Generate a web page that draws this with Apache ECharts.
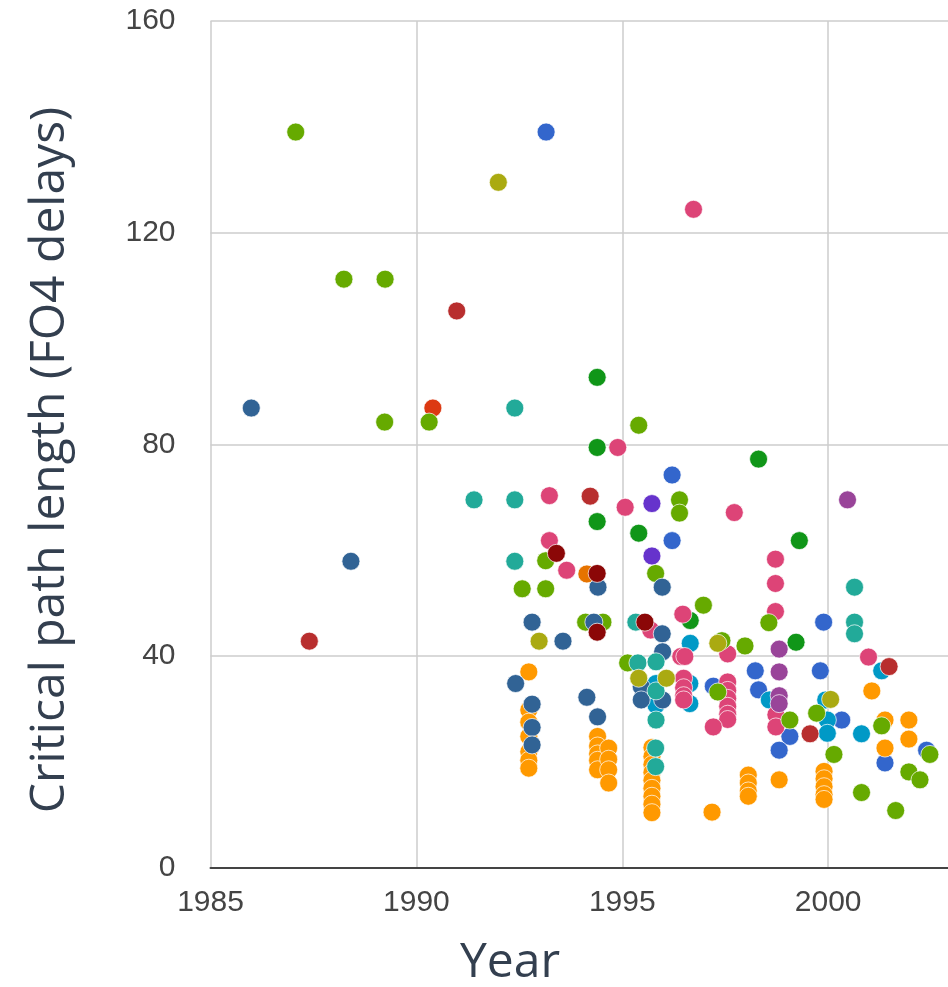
<!DOCTYPE html>
<html>
<head>
<meta charset="utf-8">
<script src="https://cdn.jsdelivr.net/npm/echarts@6/dist/echarts.min.js"></script>
<style>
  html, body { margin: 0; padding: 0; background: #ffffff; overflow: hidden; width: 948px; height: 987px; }
  #chart { width: 960px; height: 987px; }
</style>
</head>
<body>
<div id="chart"></div>
<script>
// ---- Data (year, critical path length in FO4 delays) ----
const xTicks = [1985, 1990, 1995, 2000];
const yTicks = [0, 40, 80, 120, 160];

const seriesNames = ['Blue', 'Red-orange', 'Orange', 'Dark green', 'Cyan', 'Pink', 'Green', 'Red', 'Navy', 'Purple', 'Teal', 'Olive', 'Violet', 'Dark orange', 'Dark red'];
const seriesColors = ['#3366cc', '#dc3912', '#ff9900', '#109618', '#0099c6', '#dd4477', '#66aa00', '#b82e2e', '#316395', '#994499', '#22aa99', '#aaaa11', '#6633cc', '#e67300', '#8b0707'];

const blue = [[1993.15,139],[1996.21,74.2],[1996.21,61.8],[1999.89,46.4],[1998.23,37.2],[1999.81,37.2],[1997.21,34.3],[1998.31,33.6],[1999.07,24.8],[1998.81,22.2],[2000.33,27.9],[2001.38,19.8],[2002.39,22.2]];
const redOrange = [[1990.40,86.85]];
const orange = [[1992.73,37.0],[1992.73,29.8],[1992.73,27.5],[1992.73,24.8],[1992.73,21.9],[1992.73,20.3],[1992.73,18.8],
  [1994.40,24.8],[1994.40,23.0],[1994.40,21.5],[1994.40,20.3],[1994.40,18.5],[1994.67,22.6],[1994.67,20.5],[1994.67,18.5],[1994.67,16.0],
  [1995.72,22.7],[1995.72,21.0],[1995.72,19.5],[1995.72,18.0],[1995.72,16.5],[1995.72,15.0],[1995.72,13.5],[1995.72,12.0],[1995.72,10.4],
  [1997.18,10.5],[1998.06,17.5],[1998.06,16.0],[1998.06,14.5],[1998.06,13.5],[1998.81,16.6],
  [1999.90,18.2],[1999.90,16.8],[1999.90,15.3],[1999.90,13.8],[1999.90,12.9],
  [2001.06,33.4],[2001.38,27.9],[2001.38,22.6],[2001.96,27.9],[2001.96,24.3]];
const darkGreen = [[1994.39,92.65],[1994.39,79.4],[1998.31,77.2],[1994.39,65.4],[1995.40,63.2],[1999.30,61.8],[1996.65,46.7],[1999.22,42.6]];
const cyan = [[1996.65,42.4],[1995.82,34.8],[1995.82,30.7],[1996.64,34.8],[1996.64,31.0],[1998.57,31.7],[1999.94,31.7],[1999.98,27.9],[1999.98,25.4],[2000.81,25.3],[2001.30,37.2]];
const pink = [[1996.73,124.4],[1994.89,79.4],[1993.23,70.3],[1995.07,68.1],[1997.72,67.1],[1993.23,61.8],[1993.65,56.2],[1996.47,47.9],
  [1998.72,58.3],[1998.72,53.7],[1998.72,48.4],[1995.69,44.9],[1997.56,40.4],[1996.42,39.9],[1996.52,39.9],
  [1996.49,35.8],[1996.49,34.0],[1996.49,32.5],[1996.49,31.7],
  [1997.56,35.1],[1997.56,33.5],[1997.56,32.0],[1997.56,30.5],[1997.56,29.0],[1997.56,28.0],
  [1997.21,26.6],[1998.73,28.9],[1998.73,26.6],[2000.98,39.8]];
const green = [[1987.07,139],[1988.24,111.2],[1989.24,111.2],[1989.23,84.2],[1990.31,84.2],[1992.57,52.7],[1993.14,58.0],[1993.14,52.7],
  [1994.11,46.4],[1994.53,46.4],[1995.40,83.6],[1996.39,69.5],[1996.39,67.0],[1995.81,55.6],[1996.97,49.6],[1998.56,46.3],
  [1997.42,42.9],[1997.98,41.9],[1995.13,38.7],[1997.32,33.2],[1999.07,27.9],[1999.72,29.2],[2000.14,21.4],[2001.30,26.8],
  [2002.47,21.4],[2001.96,18.1],[2002.23,16.6],[2000.81,14.2],[2001.64,10.8]];
const red = [[1990.98,105.2],[1987.40,42.8],[1994.22,70.2],[2001.48,38.0],[1999.56,25.3]];
const navy = [[1985.99,86.85],[1988.41,57.9],[1994.41,53.0],[1995.97,53.0],[1992.81,46.4],[1994.31,46.4],[1995.97,44.2],[1993.56,42.8],
  [1995.98,40.8],[1992.41,34.8],[1992.81,30.9],[1992.81,26.5],[1992.81,23.2],[1994.14,32.2],[1994.40,28.5],[1995.46,34.2],[1995.46,31.7],[1995.98,31.7]];
const purple = [[2000.47,69.5],[1998.81,41.3],[1998.81,37.0],[1998.81,32.5],[1998.81,31.0]];
const teal = [[1992.39,86.85],[1991.40,69.5],[1992.39,69.5],[1992.39,57.9],[1995.33,46.4],[1995.38,38.7],[1995.82,38.9],[1995.82,33.4],
  [1995.82,27.9],[1995.81,22.6],[1995.81,19.1],[2000.64,53.0],[2000.64,46.4],[2000.64,44.2]];
const olive = [[1991.99,129.5],[1992.98,42.8],[1997.32,42.4],[1995.40,35.8],[1996.07,35.8],[2000.06,31.8]];
const violet = [[1995.72,68.8],[1995.72,58.9]];
const darkOrange = [[1994.14,55.5]];
const darkRed = [[1993.40,59.4],[1994.39,55.6],[1994.39,44.5],[1995.55,46.4]];

const seriesData = [blue, redOrange, orange, darkGreen, cyan, pink, green, red, navy, purple, teal, olive, violet, darkOrange, darkRed];

const xTitle = 'Year';
const yTitle = 'Critical path length (FO4 delays)';

// ---- Chart ----
const chart = echarts.init(document.getElementById('chart'), null, { renderer: 'canvas' });
const titleColor = '#333f4f';
const tickColor = '#444444';

const option = {
  animation: false,
  backgroundColor: '#ffffff',
  grid: { left: 210.5, right: 8.3, top: 20.9, bottom: 119.3, containLabel: false },
  xAxis: {
    type: 'value',
    min: xTicks[0],
    max: 2003,
    interval: 5,
    axisLine: { show: true, onZero: false, lineStyle: { color: '#444444', width: 2 } },
    axisTick: { show: false },
    splitLine: { show: true, lineStyle: { color: '#cccccc', width: 1.5 } },
    axisLabel: {
      color: tickColor, fontFamily: 'Liberation Sans, Arial, sans-serif', fontSize: 30, margin: 20,
      showMaxLabel: false,
      formatter: v => (xTicks.indexOf(v) >= 0 ? String(v) : '')
    }
  },
  yAxis: {
    type: 'value',
    min: yTicks[0],
    max: yTicks[yTicks.length - 1],
    interval: 40,
    axisLine: { show: false },
    axisTick: { show: false },
    splitLine: { show: true, lineStyle: { color: '#cccccc', width: 1.5 } },
    axisLabel: { color: tickColor, fontFamily: 'Liberation Sans, Arial, sans-serif', fontSize: 30, margin: 35 }
  },
  graphic: [
    { type: 'text', x: 510, y: 963, style: { text: xTitle, fill: titleColor, font: '48px "Open Sans"', textAlign: 'center', textVerticalAlign: 'middle' } },
    { type: 'text', x: 50, y: 460, rotation: Math.PI / 2, style: { text: yTitle, fill: titleColor, font: '48px "Open Sans"', textAlign: 'center', textVerticalAlign: 'middle' } }
  ],
  series: seriesData.map((d, i) => ({
    name: seriesNames[i],
    type: 'scatter',
    data: d,
    symbol: 'circle',
    symbolSize: 18,
    itemStyle: { color: seriesColors[i], opacity: 1, borderColor: 'rgba(255,255,255,0.7)', borderWidth: 1 },
    z: 2 + i
  }))
};
chart.setOption(option);
</script>
</body>
</html>
